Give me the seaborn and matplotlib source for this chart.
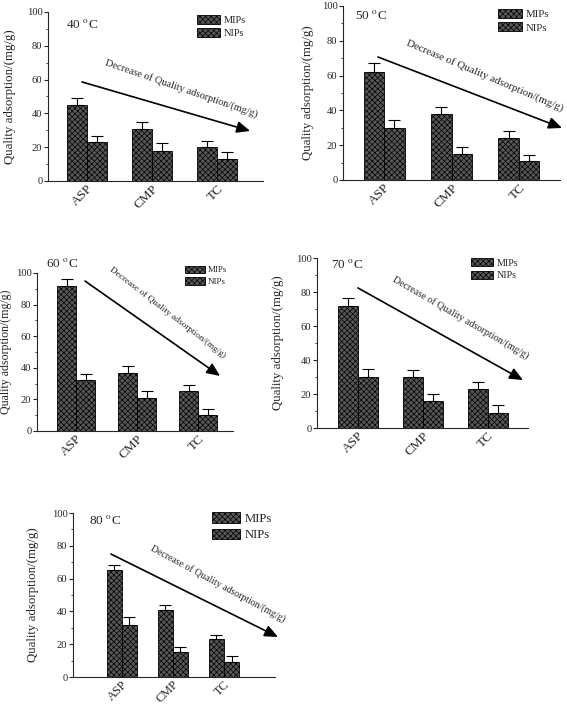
import numpy as np
import pandas as pd
import matplotlib
matplotlib.use('Agg')
import matplotlib.pyplot as plt
import matplotlib.patches as mpatches
from matplotlib.ticker import MultipleLocator
import seaborn as sns

# Data
categories = ['ASP', 'CMP', 'TC']
temperatures = ['40', '50', '60', '70', '80']

mips_mean = [[45, 31, 20], [62, 38, 24], [92, 37, 25], [72, 30, 23], [65, 41, 23]]
mips_err = [[4.3, 4.0, 3.8], [5.0, 4.0, 4.0], [4.5, 4.4, 4.0], [4.7, 4.0, 4.0], [3.5, 3.0, 2.5]]
nips_mean = [[23, 18, 13], [30, 15, 11], [32, 21, 10], [30, 16, 9], [32, 15, 9]]
nips_err = [[3.5, 4.3, 4.0], [4.5, 4.0, 3.5], [4.0, 4.0, 3.7], [4.5, 4.0, 4.3], [4.6, 3.3, 3.8]]

arrow_text = 'Decrease of Quality adsorption/(mg/g)'

sns.set_style('ticks')
plt.rcParams['font.family'] = ['Liberation Serif', 'DejaVu Serif']
plt.rcParams['mathtext.fontset'] = 'stix'
plt.rcParams['hatch.color'] = '#262626'
plt.rcParams['hatch.linewidth'] = 0.5

# layout for each panel (figure fractions etc.)
panels = [
    dict(rect=[0.0847, 0.7433, 0.3792, 0.2397], xlim=(-0.6, 2.71), width=0.62,
         temp_xy=(0.158, 0.923), leg_xy=(0.693, 0.982), leg_fs=7.5,
         arrow=((0.158, 0.586), (0.94, 0.296)), txt_xy=(0.62, 0.55), txt_rot=-19, txt_fs=7.5,
         ylab_x=-0.15, ylab_fs=9.3, xt_fs=9.5),
    dict(rect=[0.605, 0.7447, 0.3827, 0.2468], xlim=(-0.61, 2.61), width=0.61,
         temp_xy=(0.129, 0.943), leg_xy=(0.714, 0.983), leg_fs=7.8,
         arrow=((0.161, 0.707), (1.009, 0.299)), txt_xy=(0.654, 0.60), txt_rot=-23, txt_fs=7.8,
         ylab_x=-0.135, ylab_fs=9.3, xt_fs=9.5),
    dict(rect=[0.0653, 0.3887, 0.3457, 0.2241], xlim=(-0.64, 2.57), width=0.62,
         temp_xy=(0.128, 1.063), leg_xy=(0.755, 1.046), leg_fs=6.4,
         arrow=((0.245, 0.949), (0.934, 0.348)), txt_xy=(0.668, 0.747), txt_rot=-37.5, txt_fs=6.7,
         ylab_x=-0.13, ylab_fs=8.6, xt_fs=9.5),
    dict(rect=[0.5591, 0.3929, 0.3721, 0.2411], xlim=(-0.63, 2.62), width=0.62,
         temp_xy=(0.142, 0.959), leg_xy=(0.73, 1.0), leg_fs=7.2,
         arrow=((0.194, 0.824), (0.976, 0.282)), txt_xy=(0.68, 0.647), txt_rot=-30, txt_fs=7.2,
         ylab_x=-0.158, ylab_fs=9.3, xt_fs=9.5),
    dict(rect=[0.1287, 0.0397, 0.3563, 0.2326], xlim=(-0.96, 3.0), width=0.59,
         temp_xy=(0.158, 0.957), leg_xy=(0.688, 1.006), leg_fs=9.2,
         arrow=((0.188, 0.75), (1.015, 0.244)), txt_xy=(0.718, 0.567), txt_rot=-28.4, txt_fs=7.0,
         ylab_x=-0.17, ylab_fs=9.3, xt_fs=8.8),
]

fig = plt.figure(figsize=(5.67, 7.05), dpi=100)

bar_face = '#575757'
hatches = ['xxxxxx', 'xxxxxx']

for i, temp in enumerate(temperatures):
    p = panels[i]
    ax = fig.add_axes(p['rect'])
    df = pd.DataFrame({
        'cat': categories * 2,
        'type': ['MIPs'] * 3 + ['NIPs'] * 3,
        'val': mips_mean[i] + nips_mean[i],
    })
    sns.barplot(data=df, x='cat', y='val', hue='type', ax=ax, width=p['width'],
                palette=[bar_face, bar_face], edgecolor='black', linewidth=0.6,
                errorbar=None, legend=False, saturation=1)

    errs = [mips_err[i], nips_err[i]]
    means = [mips_mean[i], nips_mean[i]]
    bar_conts = list(ax.containers)
    for k, cont in enumerate(bar_conts):
        xs = []
        for patch in cont.patches:
            patch.set_hatch(hatches[k])
            xs.append(patch.get_x() + patch.get_width() / 2)
        ax.errorbar(xs, means[k], yerr=[np.zeros(3), errs[k]], fmt='none',
                    ecolor='black', elinewidth=0.8, capsize=4.5, capthick=0.8, zorder=1)

    ax.set_xlim(*p['xlim'])
    ax.set_ylim(0, 100)
    ax.yaxis.set_major_locator(MultipleLocator(20))
    ax.yaxis.set_minor_locator(MultipleLocator(10))
    ax.tick_params(axis='y', which='major', length=3, width=0.8, labelsize=7.6, pad=1)
    ax.tick_params(axis='y', which='minor', length=1.5, width=0.6)
    ax.tick_params(axis='x', length=0, labelsize=p['xt_fs'], pad=1)
    for lab in ax.get_xticklabels():
        lab.set_rotation(45)
        lab.set_ha('right')
        lab.set_rotation_mode('anchor')
    sns.despine(ax=ax)
    ax.spines['left'].set_linewidth(0.8)
    ax.spines['bottom'].set_linewidth(0.8)

    ax.set_xlabel('')
    ax.set_ylabel('Quality adsorption/(mg/g)', fontsize=p['ylab_fs'])
    ax.yaxis.set_label_coords(p['ylab_x'], 0.5)

    ax.text(p['temp_xy'][0], p['temp_xy'][1], temp + r' $^{\mathrm{o}}$C',
            transform=ax.transAxes, ha='center', va='center', fontsize=9.5)

    handles = [mpatches.Patch(facecolor=bar_face, edgecolor='black', linewidth=0.6,
                              hatch=hatches[k], label=lab)
               for k, lab in enumerate(['MIPs', 'NIPs'])]
    ax.legend(handles=handles, loc='upper left', bbox_to_anchor=p['leg_xy'],
              frameon=False, fontsize=p['leg_fs'], borderpad=0, borderaxespad=0,
              handlelength=2.2, handleheight=0.9, labelspacing=0.3, handletextpad=0.4)

    (x0, y0), (x1, y1) = p['arrow']
    ax.annotate('', xy=(x1, y1), xytext=(x0, y0), xycoords='axes fraction',
                textcoords='axes fraction', annotation_clip=False,
                arrowprops=dict(arrowstyle='-|>,head_length=0.8,head_width=0.35',
                                color='black', lw=1.2, shrinkA=0, shrinkB=0))
    ax.text(p['txt_xy'][0], p['txt_xy'][1], arrow_text, transform=ax.transAxes,
            ha='center', va='center', rotation=p['txt_rot'], fontsize=p['txt_fs'])

fig.savefig('out.png', dpi=100)
